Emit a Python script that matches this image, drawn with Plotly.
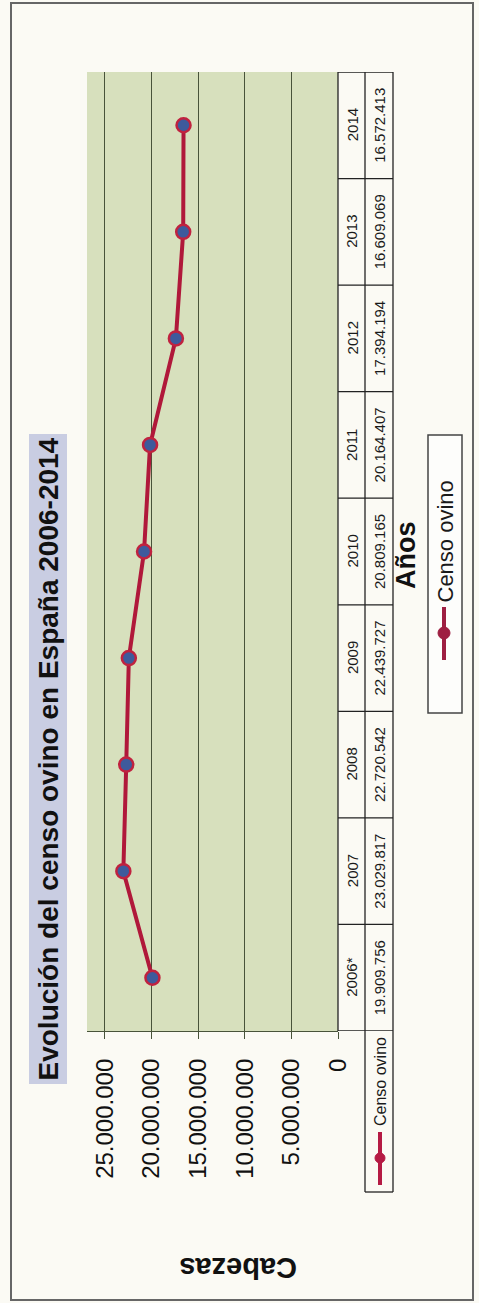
import plotly.graph_objects as go

# ---- data ----
years = ["2006*", "2007", "2008", "2009", "2010", "2011", "2012", "2013", "2014"]
censo = [19909756, 23029817, 22720542, 22439727, 20809165, 20164407, 17394194, 16609069, 16572413]
tick_vals = [0, 5000000, 10000000, 15000000, 20000000, 25000000]
series_name = "Censo ovino"
title_text = "Evolución del censo ovino en España 2006-2014"
x_title = "Años"
y_title = "Cabezas"

W, H = 479, 1303
L, R, T, B = 87, 338, 72, 1031  # plot area in pixels


def X(px):
    return (px - L) / (R - L)


def Y(py):
    return (B - py) / (B - T)


FONT = "Liberation Sans, Arial, sans-serif"
RED = "#b0183a"
DARK = "#48533a"
idx = list(range(len(years)))

fig = go.Figure()
fig.add_trace(go.Scatter(
    x=censo, y=idx, mode="lines+markers", name=series_name,
    line=dict(color=RED, width=4),
    marker=dict(size=14, color="#3e5a9c", line=dict(color="#c0223f", width=2.5)),
    showlegend=False,
))

shapes = []
ann = []


def add_text(x, y, text, size, angle=-90, xref="paper", yref="paper", **kw):
    ann.append(dict(xref=xref, yref=yref, x=x, y=y, text=text, showarrow=False,
                    textangle=angle, xanchor="center", yanchor="middle",
                    font=dict(family=FONT, size=size, color=kw.pop("color", "#1a1a1a")),
                    **kw))


# outer frame
shapes.append(dict(type="rect", xref="paper", yref="paper",
                   x0=X(11), x1=X(473), y0=Y(3), y1=Y(1300),
                   line=dict(color="#666666", width=2), layer="below"))

# data table: borders
line_k = dict(color="#222222", width=1.3)
for xp in (338, 365, 393):
    y_end = 1031 if xp == 338 else 1192
    shapes.append(dict(type="line", xref="paper", yref="paper",
                       x0=X(xp), x1=X(xp), y0=Y(72), y1=Y(y_end), line=line_k))
for i in range(len(years) + 1):
    shapes.append(dict(type="line", xref="paper", yref="y",
                       x0=X(338), x1=X(393), y0=i - 0.5, y1=i - 0.5, line=line_k))
shapes.append(dict(type="line", xref="paper", yref="paper",
                   x0=X(365), x1=X(393), y0=Y(1192), y1=Y(1192), line=line_k))

# table text
for i, (yr, v) in enumerate(zip(years, censo)):
    add_text(X(352), i, yr, 15, yref="y")
    add_text(X(379.5), i, f"{v:,}".replace(",", "."), 15, yref="y")

# table legend key cell
add_text(X(380), Y(1082), series_name, 16)
shapes.append(dict(type="line", xref="paper", yref="paper",
                   x0=X(380), x1=X(380), y0=Y(1132), y1=Y(1185),
                   line=dict(color="#b51a44", width=4)))
shapes.append(dict(type="circle", xref="paper", yref="paper",
                   x0=X(375), x1=X(385), y0=Y(1153), y1=Y(1163),
                   fillcolor="#b51a44", line=dict(color="#b51a44", width=1)))

# legend box
shapes.append(dict(type="rect", xref="paper", yref="paper",
                   x0=X(428), x1=X(462), y0=Y(435), y1=Y(713),
                   fillcolor="#fdfdfb", line=dict(color="#444444", width=1.5)))
add_text(X(444.5), Y(542), series_name, 22)
shapes.append(dict(type="line", xref="paper", yref="paper",
                   x0=X(444), x1=X(444), y0=Y(607), y1=Y(660),
                   line=dict(color="#9e1f42", width=4)))
shapes.append(dict(type="circle", xref="paper", yref="paper",
                   x0=X(438), x1=X(450), y0=Y(627), y1=Y(639),
                   fillcolor="#9e1f42", line=dict(color="#9e1f42", width=1)))

# title
add_text(X(47.5), Y(759), f"<b>{title_text}</b>", 28, bgcolor="#c9cde2",
         borderpad=3, color="#111111")
# axis titles
add_text(X(406), Y(555), f"<b>{x_title}</b>", 27, color="#111111")
add_text(X(238), Y(1268), f"<b>{y_title}</b>", 29, angle=180, color="#111111")

fig.update_layout(
    width=W, height=H,
    margin=dict(l=L, r=W - R, t=T, b=H - B, pad=0),
    paper_bgcolor="#fbfaf4",
    plot_bgcolor="#d7e0bd",
    separators=",.",
    showlegend=False,
    shapes=shapes,
    annotations=ann,
    xaxis=dict(
        range=[26.93e6, 0], tickvals=tick_vals, tickformat=",d",
        tickangle=-90, showgrid=True, gridcolor=DARK, gridwidth=1.3,
        zeroline=False, showline=True, linecolor=DARK, linewidth=1.3,
        ticks="outside", ticklen=7, tickcolor=DARK, tickwidth=1.3,
        ticklabelstandoff=10,
        tickfont=dict(family=FONT, size=24, color="#111111"),
    ),
    yaxis=dict(range=[-0.5, 8.5], showticklabels=False, showgrid=False,
               zeroline=False, showline=False, fixedrange=True),
)

fig.write_html("out.html", config={"displayModeBar": False},
               post_script="document.body.style.margin='0';document.body.style.overflow='hidden';")
